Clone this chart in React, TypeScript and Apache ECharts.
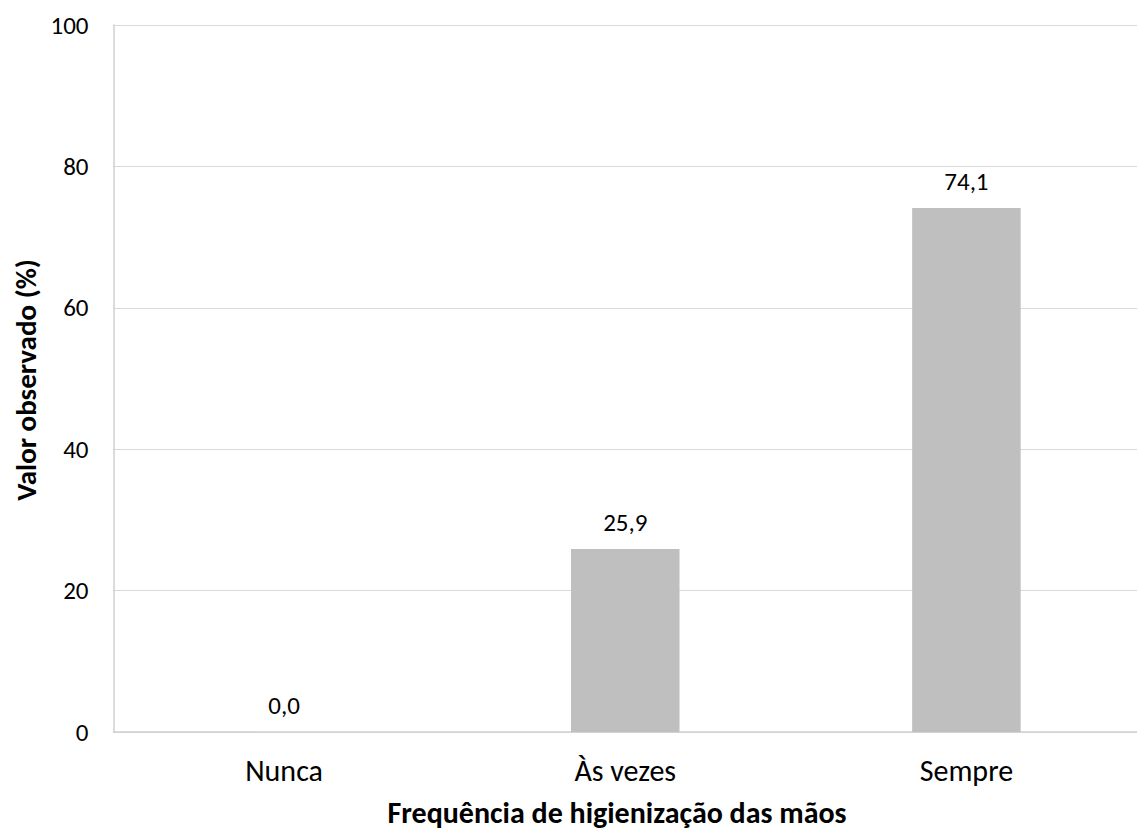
import React, { useEffect, useRef } from "react";
import * as echarts from "echarts";

const categories = ["Nunca", "Às vezes", "Sempre"];
const values = [0.0, 25.9, 74.1];
const yTicks = { min: 0, max: 100, interval: 20 };
const yTitle = "Valor observado (%)";
const xTitle = "Frequência de higienização das mãos";

const FONT = "Carlito, Calibri, Lato, sans-serif";

export default function App() {
  const ref = useRef<HTMLDivElement>(null);
  useEffect(() => {
    if (!ref.current) return;
    const chart = echarts.init(ref.current, undefined, { renderer: "svg" });
    chart.setOption({
      animation: false,
      backgroundColor: "#ffffff",
      textStyle: { fontFamily: FONT },
      grid: { left: 113.5, right: -14.5, top: 25, bottom: 102 },
      xAxis: {
        type: "category",
        data: categories,
        axisLine: { show: true, lineStyle: { color: "#d0d0d0", width: 1.5 } },
        axisTick: { show: false },
        axisLabel: { color: "#000", fontSize: 30, margin: 23, fontFamily: FONT },
      },
      yAxis: {
        type: "value",
        min: yTicks.min,
        max: yTicks.max,
        interval: yTicks.interval,
        axisLine: { show: true, lineStyle: { color: "#d0d0d0", width: 1.5 } },
        axisTick: { show: false },
        splitLine: { show: true, lineStyle: { color: "#d9d9d9", width: 1 } },
        axisLabel: { color: "#000", fontSize: 25, margin: 25, fontFamily: FONT },
      },
      series: [
        {
          type: "bar",
          data: values,
          barWidth: 108.5,
          itemStyle: { color: "#bfbfbf" },
          label: {
            show: true,
            position: "top",
            distance: 14,
            color: "#000",
            fontSize: 25,
            fontFamily: FONT,
            formatter: (p: any) => Number(p.value).toFixed(1).replace(".", ","),
          },
        },
      ],
      graphic: [
        {
          type: "text",
          x: 617,
          y: 812,
          style: {
            text: xTitle,
            fontSize: 30,
            fontWeight: "bold",
            fontFamily: FONT,
            fill: "#000",
            align: "center",
            verticalAlign: "middle",
          },
        },
        {
          type: "text",
          x: 26,
          y: 380,
          rotation: Math.PI / 2,
          style: {
            text: yTitle,
            fontSize: 29,
            fontWeight: "bold",
            fontFamily: FONT,
            fill: "#000",
            align: "center",
            verticalAlign: "middle",
          },
        },
      ],
    });
    return () => chart.dispose();
  }, []);
  return (
    <div
      ref={ref}
      style={{ position: "fixed", left: 0, top: 0, width: 1137, height: 834, overflow: "hidden" }}
    />
  );
}
